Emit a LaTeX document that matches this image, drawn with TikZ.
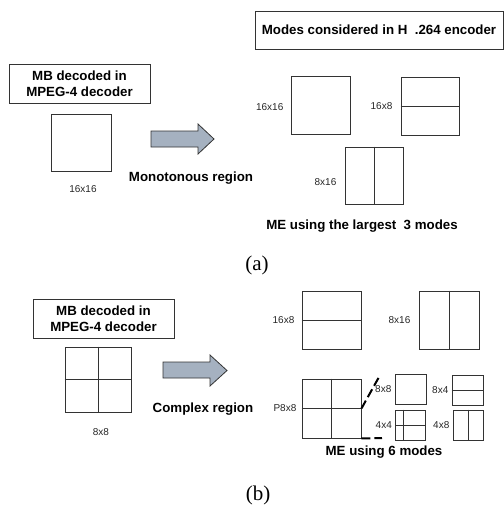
\documentclass[tikz,border=0pt]{standalone}
\usepackage{fontspec}
\setmainfont{Liberation Serif}
\setsansfont{Liberation Sans}
\usepackage{tikz}
\usetikzlibrary{positioning,calc}

\definecolor{lineclr}{HTML}{333333}
\definecolor{arrowclr}{RGB}{165,177,192}

\begin{document}
\begin{tikzpicture}[
    x=1pt, y=-1pt,
    box/.style = {draw=lineclr, line width=1pt, inner sep=0pt, align=center,
                  font=\sffamily\bfseries\fontsize{13.3}{16}\selectfont},
    blk/.style = {draw=lineclr, line width=0.9pt, inner sep=0pt},
    lbl/.style = {inner sep=0pt, text=black!85, font=\sffamily\fontsize{10}{12}\selectfont},
    captxt/.style = {inner sep=0pt, font=\sffamily\bfseries\fontsize{13.3}{16}\selectfont},
    sub/.style = {inner sep=0pt, font=\rmfamily\fontsize{21}{24}\selectfont},
    bigarrow/.style = {draw=lineclr, line width=0.8pt, fill=arrowclr},
    split/.style = {draw=lineclr, line width=0.9pt},
    link/.style = {line width=2pt, dash pattern=on 9pt off 4pt}
]
\useasboundingbox (0,0) rectangle (504,507);

% (a) monotonous region
\node (mbA) [box, minimum width=141pt, minimum height=39pt] at (79.5,83.5) {MB decoded in\\MPEG-4 decoder};
\node (sqA) [blk, minimum width=60pt, minimum height=57pt] at (81,142.5) {};
\node (sqAl) [lbl, below=14pt of sqA, xshift=2pt] {16x16};
\draw[bigarrow] (151,131) -- (198,131) -- (198,124) -- (214,139) -- (198,154) -- (198,147) -- (151,147) -- cycle;
\node (mono) [captxt] at (191,178) {Monotonous region};

\node (modes) [box, minimum width=248pt, minimum height=38pt] at (379,30) {Modes considered in H\ \ .264 encoder};
\node (m1616) [blk, minimum width=59pt, minimum height=58pt] at (320.5,105) {};
\node (m168) [blk, minimum width=58pt, minimum height=58pt] at (430,106) {};
\node (m816) [blk, minimum width=58pt, minimum height=57pt] at (374,175.5) {};
\draw[split] (m168.west) -- (m168.east);
\draw[split] (m816.north) -- (m816.south);
\node (m1616l) [lbl, left=7pt of m1616, yshift=-2pt] {16x16};
\node (m168l) [lbl, left=8pt of m168] {16x8};
\node (m816l) [lbl, left=8pt of m816, yshift=-7pt] {8x16};
\node (meA) [captxt] at (362,226) {ME using the largest\ \ 3 modes};
\node (subA) [sub] at (257,265) {(a)};

% (b) complex region
\node (mbB) [box, minimum width=141pt, minimum height=39pt] at (103.5,318.5) {MB decoded in\\MPEG-4 decoder};
\node (sqB) [blk, minimum width=66pt, minimum height=65pt] at (98,379.5) {};
\draw[split] (sqB.west) -- (sqB.east);
\draw[split] (sqB.north) -- (sqB.south);
\node (sqBl) [lbl, below=16pt of sqB, xshift=3pt] {8x8};
\draw[bigarrow] (163,362) -- (210,362) -- (210,355) -- (227,370.5) -- (210,386) -- (210,378) -- (163,378) -- cycle;
\node (cplx) [captxt] at (203,409) {Complex region};

\node (b168) [blk, minimum width=59pt, minimum height=58pt] at (331.5,320) {};
\node (b816) [blk, minimum width=60pt, minimum height=58pt] at (449,320) {};
\node (bp88) [blk, minimum width=59pt, minimum height=59pt] at (331.5,408.5) {};
\draw[split] (b168.west) -- (b168.east);
\draw[split] (b816.north) -- (b816.south);
\draw[split] (bp88.west) -- (bp88.east);
\draw[split] (bp88.north) -- (bp88.south);
\node (b168l) [lbl, left=7pt of b168] {16x8};
\node (b816l) [lbl, left=8pt of b816] {8x16};
\node (bp88l) [lbl, left=5pt of bp88] {P8x8};

\node (s88) [blk, minimum width=31pt, minimum height=30pt] at (410.5,389) {};
\node (s84) [blk, minimum width=31pt, minimum height=30pt] at (467.5,390) {};
\node (s44) [blk, minimum width=30pt, minimum height=30pt] at (410.5,425) {};
\node (s48) [blk, minimum width=30pt, minimum height=30pt] at (468,425) {};
\draw[split] (s84.west) -- (s84.east);
\draw[split] (s44.west) -- (s44.east);
\draw[split] ($(s44.north west)!0.27!(s44.north east)$) -- ($(s44.south west)!0.27!(s44.south east)$);
\draw[split] (s48.north) -- (s48.south);
\node (s88l) [lbl, left=3pt of s88] {8x8};
\node (s84l) [lbl, left=3pt of s84] {8x4};
\node (s44l) [lbl, left=3pt of s44] {4x4};
\node (s48l) [lbl, left=3pt of s48] {4x8};

\coordinate (zoomT) at (379,377);
\coordinate (zoomB) at (382,438);
\draw[link] (bp88.east) -- (zoomT);
\draw[link] (bp88.south east) -- (zoomB);

\node (meB) [captxt] at (384,452) {ME using 6 modes};
\node (subB) [sub] at (258,495) {(b)};
\end{tikzpicture}
\end{document}
